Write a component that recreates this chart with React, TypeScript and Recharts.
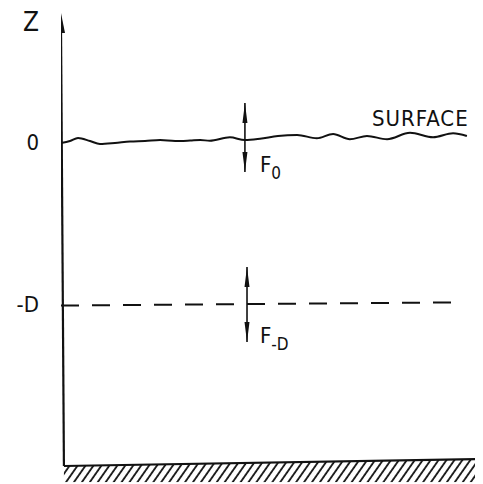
import React from "react";
import { ComposedChart, Line, Scatter, Area, XAxis, YAxis } from "recharts";

// Wavy sea surface (x: horizontal distance, z: height)
const surfaceWave = [
  { x: 0, z: -0.6 }, { x: 2.15, z: 0.6 }, { x: 4.07, z: 2.5 }, { x: 6.94, z: 0.6 },
  { x: 9.33, z: -1.2 }, { x: 12.9, z: -0.6 }, { x: 16.5, z: 0.3 }, { x: 20.1, z: 0.6 },
  { x: 23.7, z: 1.2 }, { x: 27.3, z: 0.6 }, { x: 30.9, z: 0.9 }, { x: 33.3, z: 1.2 },
  { x: 35.6, z: 0.8 }, { x: 40.4, z: 2.9 }, { x: 44.0, z: 1.2 }, { x: 47.6, z: 2.0 },
  { x: 51.9, z: 3.7 }, { x: 56.5, z: 4.3 }, { x: 61.2, z: 2.3 }, { x: 65.1, z: 4.9 },
  { x: 69.1, z: 1.7 }, { x: 73.2, z: 3.7 }, { x: 78.0, z: 1.7 }, { x: 83.5, z: 5.7 },
  { x: 89.0, z: 2.9 }, { x: 93.8, z: 5.4 }, { x: 97.1, z: 3.7 },
];
const depthLevel = [{ x: 0, z: -101 }, { x: 95, z: -99 }];
const zAxisLine = [{ x: 0.7, z: -200 }, { x: 0, z: 70 }];
const seabed = [{ x: 0.7, z: -200 }, { x: 99.5, z: -195.7 }];
const seabedHatch = [{ x: 0.7, r: [-210, -200] }, { x: 100, r: [-210, -195.7] }];
const fluxSurfaceShaft = [{ x: 44, z: 24.1 }, { x: 44, z: -18.5 }];
const fluxDepthShaft = [{ x: 44.5, z: -77.2 }, { x: 44.5, z: -123.5 }];
const axisHead = [{ x: 0, z: 79.6 }];
const fluxUpHeads = [{ x: 44, z: 24.1 }, { x: 44.5, z: -77.2 }];
const fluxDownHeads = [{ x: 44, z: -18.5 }, { x: 44.5, z: -123.5 }];
const tickValues = [74, 0, -100];
const tickLabels = ["Z", "0", "-D"];
const textLabels = [
  { x: 74.4, z: 9.9, main: "SURFACE", sub: "" },
  { x: 47.6, z: -18.5, main: "F", sub: "0" },
  { x: 47.6, z: -124.1, main: "F", sub: "-D" },
];

const FONT = "'Liberation Sans Narrow', 'DejaVu Sans Condensed', 'Liberation Sans', sans-serif";
const INK = "#111";

const headShape = (dir: "up" | "down", w: number, len: number) => (props: any) => {
  const { cx, cy } = props;
  if (cx == null || cy == null) return <g />;
  const b = dir === "up" ? cy + len : cy - len;
  return <polygon points={`${cx},${cy} ${cx - w / 2},${b} ${cx + w / 2},${b}`} fill={INK} />;
};

const textShape = (props: any) => {
  const { cx, cy, payload } = props;
  if (cx == null || cy == null) return <g />;
  return (
    <text x={cx} y={cy} fontFamily={FONT} fontSize={22} fill={INK} letterSpacing={payload.sub ? 0 : 1}>
      <tspan>{payload.main}</tspan>
      {payload.sub ? (
        <tspan dy={7} fontSize={17}>{payload.sub}</tspan>
      ) : null}
    </text>
  );
};

const AxisTick = (props: any) => {
  const { x, y, payload } = props;
  const idx = tickValues.indexOf(payload.value);
  const label = tickLabels[idx] ?? "";
  return (
    <text x={x - 22} y={y} dy="0.36em" textAnchor="end" fontFamily={FONT} fontSize={label === "Z" ? 26 : 22} fill={INK}>
      {label}
    </text>
  );
};

export default function App() {
  return (
    <div style={{ position: "relative" }}>
      <svg width={0} height={0} style={{ position: "absolute" }}>
        <defs>
          <pattern id="hatch" patternUnits="userSpaceOnUse" width={6.5} height={40} patternTransform="rotate(35)">
            <line x1={1} y1={0} x2={1} y2={40} stroke={INK} strokeWidth={1.8} />
          </pattern>
        </defs>
      </svg>
      <ComposedChart width={475} height={476} margin={{ top: 4.4, right: 4, bottom: 1.8, left: 0 }}>
        <XAxis type="number" dataKey="x" domain={[0, 100]} hide allowDataOverflow />
        <YAxis
          type="number"
          domain={[-210, 80]}
          ticks={tickValues}
          width={53}
          axisLine={false}
          tickLine={false}
          tickSize={0}
          tickMargin={0}
          tick={<AxisTick />}
          allowDataOverflow
          interval={0}
        />
        <Area data={seabedHatch} dataKey="r" type="linear" stroke="none" fill="url(#hatch)" fillOpacity={1} isAnimationActive={false} />
        <Line data={zAxisLine} dataKey="z" type="linear" stroke={INK} strokeWidth={2.2} dot={false} isAnimationActive={false} />
        <Line data={seabed} dataKey="z" type="linear" stroke={INK} strokeWidth={2.2} dot={false} isAnimationActive={false} />
        <Line data={surfaceWave} dataKey="z" type="monotone" stroke={INK} strokeWidth={2} dot={false} isAnimationActive={false} />
        <Line data={depthLevel} dataKey="z" type="linear" stroke={INK} strokeWidth={2} strokeDasharray="18 13" dot={false} isAnimationActive={false} />
        <Line data={fluxSurfaceShaft} dataKey="z" type="linear" stroke={INK} strokeWidth={1.6} dot={false} isAnimationActive={false} />
        <Line data={fluxDepthShaft} dataKey="z" type="linear" stroke={INK} strokeWidth={1.6} dot={false} isAnimationActive={false} />
        <Scatter data={axisHead} dataKey="z" shape={headShape("up", 8, 20)} isAnimationActive={false} />
        <Scatter data={fluxUpHeads} dataKey="z" shape={headShape("up", 5, 20)} isAnimationActive={false} />
        <Scatter data={fluxDownHeads} dataKey="z" shape={headShape("down", 5, 20)} isAnimationActive={false} />
        <Scatter data={textLabels} dataKey="z" shape={textShape} isAnimationActive={false} />
      </ComposedChart>
    </div>
  );
}
